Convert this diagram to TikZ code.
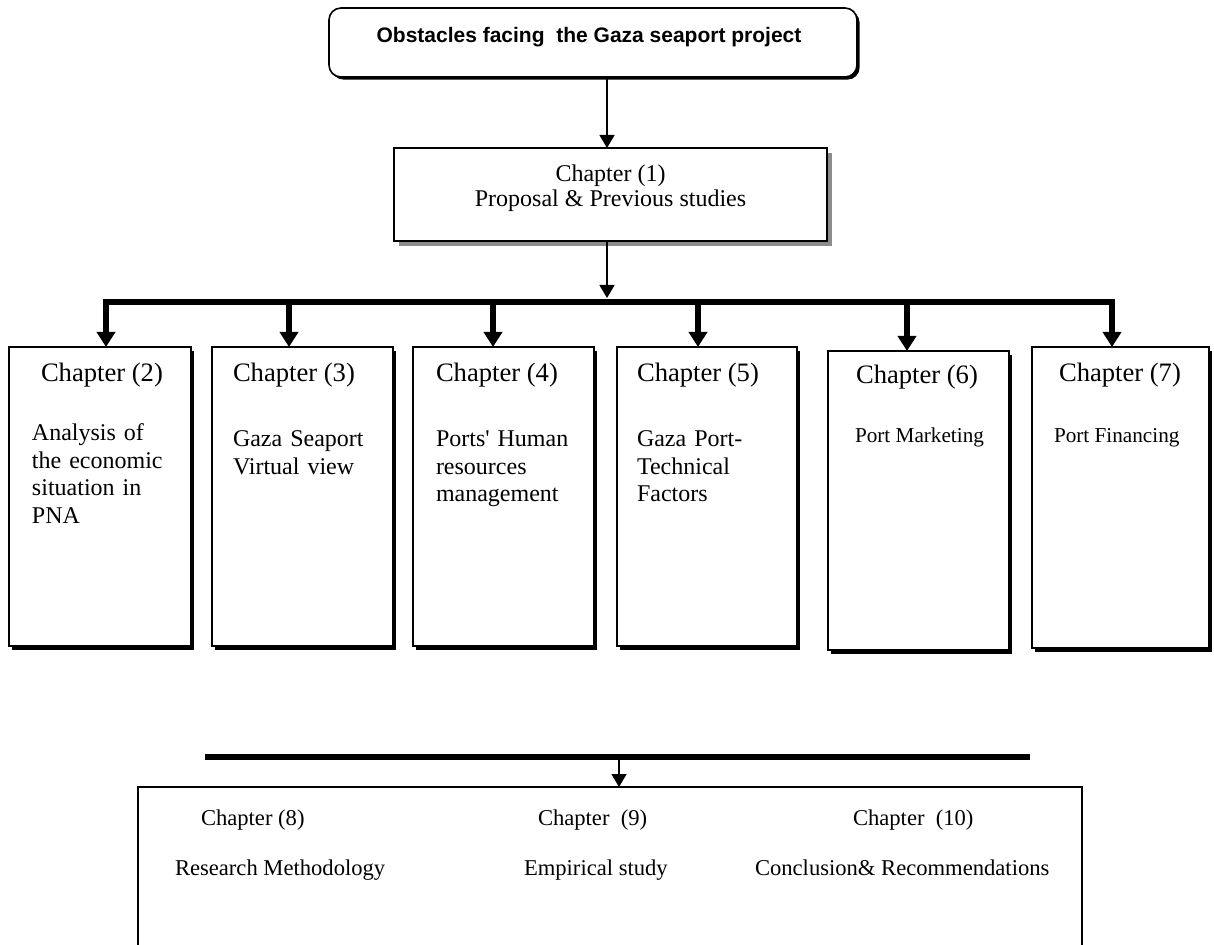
\documentclass[tikz,border=0pt]{standalone}
\usepackage{fontspec}
\setmainfont{Liberation Serif}
\newfontfamily\titlefont{Liberation Sans}
\usetikzlibrary{arrows.meta,shadows}

\begin{document}
\begin{tikzpicture}[x=0.5pt,y=-0.5pt,
  every node/.style={inner sep=0pt, outer sep=0pt},
  titlebox/.style={draw=black, line width=0.8pt, rounded corners=6pt, fill=white,
    drop shadow={shadow xshift=1.3pt, shadow yshift=-1.3pt, fill=black, opacity=1}},
  introbox/.style={draw=black, line width=0.8pt, fill=white,
    drop shadow={shadow xshift=2.3pt, shadow yshift=-2.3pt, fill=black!45, opacity=1}},
  chapbox/.style={draw=black, line width=0.7pt, fill=white,
    drop shadow={shadow xshift=1.7pt, shadow yshift=-1.9pt, fill=black, opacity=1}},
  sumbox/.style={draw=black, line width=0.7pt},
  thinarrow/.style={line width=0.75pt, -{Triangle[length=6.5pt,width=7.5pt]}},
  thickarrow/.style={line width=3pt, line join=miter, -{Triangle[length=7.5pt,width=9pt]}},
  thickbar/.style={line width=3pt},
  titletext/.style={anchor=base, font=\titlefont\bfseries\fontsize{10.5}{12.6}\selectfont},
  introtext/.style={anchor=base, font=\fontsize{12}{14}\selectfont},
  labeltext/.style={anchor=base west, font=\fontsize{13.3}{16}\selectfont},
  bodytext/.style={anchor=base west, align=left, text width=90pt, font=\fontsize{12}{13.75}\selectfont},
  smalltext/.style={anchor=base west, font=\fontsize{10.6}{12.7}\selectfont},
  sumtext/.style={anchor=base west, font=\fontsize{11.3}{13.5}\selectfont}
]
\useasboundingbox (0,0) rectangle (1214,945);

% title and first chapter
\node[titlebox, minimum width=264pt, minimum height=34.5pt] (title) at (593,42.5) {};
\node[titletext] (titlet) at (589,43) {Obstacles facing\ \ the Gaza seaport project};

\node[introbox, minimum width=216.5pt, minimum height=46.5pt] (ch1) at (610.5,194.5) {};
\node[introtext] (ch1a) at (610.5,182) {Chapter (1)};
\node[introtext] (ch1b) at (610.5,207) {Proposal \& Previous studies};

% chapter columns
\node[chapbox, minimum width=91pt, minimum height=149.5pt] (ch2) at (100,496.5) {};
\node[chapbox, minimum width=90.5pt, minimum height=149.5pt] (ch3) at (302.5,496.5) {};
\node[chapbox, minimum width=90.5pt, minimum height=149.5pt] (ch4) at (503.5,496.5) {};
\node[chapbox, minimum width=90pt, minimum height=149.5pt] (ch5) at (707,496.5) {};
\node[chapbox, minimum width=90.5pt, minimum height=149.5pt] (ch6) at (918.5,500.5) {};
\node[chapbox, minimum width=88.5pt, minimum height=150.5pt] (ch7) at (1120.5,497.5) {};

\node[labeltext] (l2) at (41,382) {Chapter (2)};
\node[bodytext] (b2) at (32,441) {Analysis of\\the economic\\situation in\\PNA};
\node[labeltext] (l3) at (233,382) {Chapter (3)};
\node[bodytext] (b3) at (233,447) {Gaza Seaport\\Virtual view};
\node[labeltext] (l4) at (436,382) {Chapter (4)};
\node[bodytext] (b4) at (436,447) {Ports\textquotesingle{} Human\\resources\\management};
\node[labeltext] (l5) at (637,382) {Chapter (5)};
\node[bodytext] (b5) at (637,447) {Gaza Port-\\Technical\\Factors};
\node[labeltext] (l6) at (856,384) {Chapter (6)};
\node[smalltext] (b6) at (855,443) {Port Marketing};
\node[labeltext] (l7) at (1059,382) {Chapter (7)};
\node[smalltext] (b7) at (1054,443) {Port Financing};

% closing chapters, the box runs past the lower edge
\begin{scope}
\clip (0,0) rectangle (1214,945);
\node[sumbox, minimum width=472pt, minimum height=106.5pt] (sum) at (610,893.5) {};
\end{scope}
\node[sumtext] (l8) at (201,825) {Chapter (8)};
\node[sumtext] (b8) at (175,875) {Research Methodology};
\node[sumtext] (l9) at (538,825) {Chapter\ \ (9)};
\node[sumtext] (b9) at (524,875) {Empirical study};
\node[sumtext] (l10) at (853,825) {Chapter\ \ (10)};
\node[sumtext] (b10) at (755,875) {Conclusion\& Recommendations};

% connectors
\coordinate (spine) at (607,0);
\coordinate (d2) at (106,302);
\coordinate (d3) at (289,302);
\coordinate (d4) at (493,302);
\coordinate (d5) at (698,302);
\coordinate (d6) at (907,302);
\coordinate (d7) at (1112,302);
\coordinate (busin) at (607,298);

\draw[thinarrow] (title.south -| spine) -- (ch1.north -| spine);
\draw[thinarrow] (ch1.south -| spine) -- (busin);

\draw[thickarrow, {Triangle[length=7.5pt,width=9pt]}-{Triangle[length=7.5pt,width=9pt]}]
  (d2 |- ch2.north) -- (d2) -- (d7) -- (d7 |- ch7.north);
\draw[thickarrow] (d3) -- (d3 |- ch3.north);
\draw[thickarrow] (d4) -- (d4 |- ch4.north);
\draw[thickarrow] (d5) -- (d5 |- ch5.north);
\draw[thickarrow] (d6) -- (d6 |- ch6.north);

\coordinate (barL) at (205,757);
\coordinate (barR) at (1030,757);
\coordinate (barmid) at (619,757);
\draw[thickbar] (barL) -- (barR);
\draw[thinarrow] (barmid) -- (barmid |- sum.north);
\end{tikzpicture}
\end{document}
